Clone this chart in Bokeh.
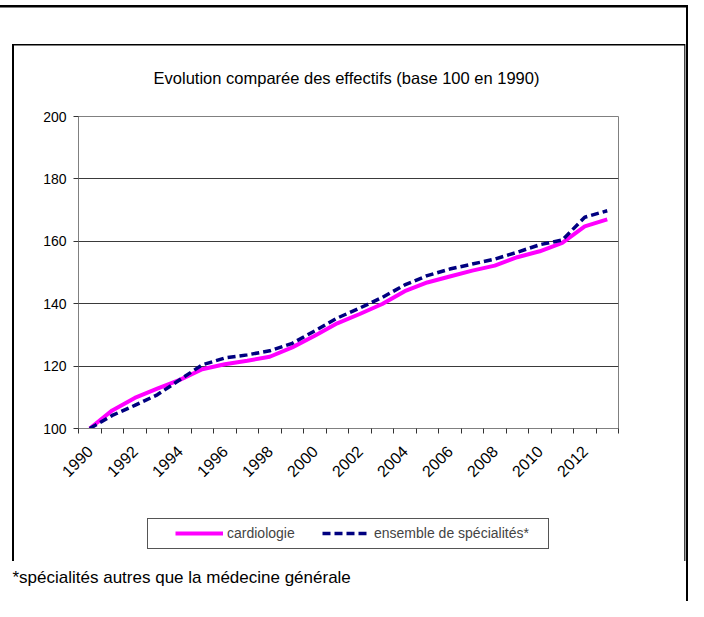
from math import pi
from bokeh.plotting import figure
from bokeh.layouts import column
from bokeh.models import Range1d, FixedTicker, Legend, LegendItem, Label
from bokeh.embed import file_html
from bokeh.resources import INLINE

# ---- data ----
years = list(range(1990, 2014))
cardiologie = [100, 105.8, 109.8, 112.8, 115.6, 119.0, 120.6, 121.7, 123.0, 126.0,
               129.7, 133.7, 136.7, 139.9, 144.0, 146.8, 148.7, 150.6, 152.2, 154.9,
               156.8, 159.5, 164.8, 167.0]
ensemble = [100, 104.2, 107.4, 110.8, 115.6, 120.4, 122.6, 123.6, 124.9, 127.3,
            131.3, 135.4, 138.6, 142.0, 146.0, 149.0, 151.1, 152.7, 154.3, 156.5,
            158.9, 160.4, 167.7, 169.8]
x_tick_years = list(range(1990, 2013, 2))
y_ticks = [100, 120, 140, 160, 180, 200]
title_text = "Evolution comparée des effectifs (base 100 en 1990)"
footnote_text = "*spécialités autres que la médecine générale"
label_cardio = "cardiologie"
label_ensemble = "ensemble de spécialités*"

FONT = "Liberation Sans"
W = 688
H0, H1, H2 = 100, 390, 111   # header strip, chart, legend/footnote strip

MAGENTA = "#FF00FF"
NAVY = "#000080"
NAN = float("nan")

# decorative frame lines drawn as CSS backgrounds: (color, x, y, w, h)
deco = [
    ("#000000", 0, 5, 688, 2.5),        # outer top border
    ("#000000", 686, 5, 2, 596),        # outer right border
    ("#000000", 12, 43.5, 673, 1.5),    # inner frame top
    ("#000000", 11.5, 43.5, 2, 517),    # inner frame left
    ("#444444", 683.5, 43.5, 1.5, 517), # inner frame right
    ("#555555", 147, 518, 401, 1),      # legend box top
    ("#555555", 147, 548, 402, 1),      # legend box bottom
    ("#555555", 147, 518, 1, 31),       # legend box left
    ("#555555", 548, 518, 1, 31),       # legend box right
]
bg_layers = ", ".join(
    f"linear-gradient({c},{c}) {x}px {y}px / {w}px {h}px no-repeat" for c, x, y, w, h in deco
) + ", white"


def strip(height, top):
    """A transparent strip whose data coordinates are page pixels."""
    f = figure(width=W, height=height, output_backend="svg", toolbar_location=None,
               x_range=Range1d(0, W), y_range=Range1d(top + height, top),
               x_axis_location=None, y_axis_location=None,
               min_border_left=0, min_border_right=0, min_border_top=0,
               min_border_bottom=0, frame_align=False)
    f.grid.visible = False
    f.outline_line_color = None
    f.background_fill_alpha = 0
    f.border_fill_alpha = 0
    return f


# ---- header: title ----
p0 = strip(H0, 0)
p0.add_layout(Label(x=346, y=77, text=title_text, text_align="center",
                    text_baseline="alphabetic", text_font=FONT,
                    text_font_size="16.5px", text_color="black"))

# ---- chart ----
p1 = figure(width=W, height=H1, output_backend="svg", toolbar_location=None,
            x_range=Range1d(1989.5, 2013.5), y_range=Range1d(100, 200),
            min_border_left=78, min_border_right=70, min_border_top=16,
            min_border_bottom=H0 + H1 - 428, frame_align=False)
p1.background_fill_color = "white"
p1.border_fill_alpha = 0
p1.outline_line_color = "#808080"
p1.outline_line_width = 1

p1.xgrid.visible = False
p1.ygrid.ticker = FixedTicker(ticks=[120, 140, 160, 180])
p1.ygrid.grid_line_color = "#3a3a3a"
p1.ygrid.grid_line_width = 1

xa = p1.xaxis[0]
xa.ticker = FixedTicker(ticks=x_tick_years, minor_ticks=[y - 0.5 for y in years] + [2013.5])
xa.major_tick_out = 0
xa.major_tick_in = 0
xa.minor_tick_out = 5
xa.minor_tick_in = 0
xa.minor_tick_line_color = "#333333"
xa.axis_line_color = "#808080"
xa.major_label_orientation = pi / 4
xa.major_label_text_font = FONT
xa.major_label_text_font_size = "16px"
xa.major_label_text_color = "black"
xa.major_label_standoff = 15

ya = p1.yaxis[0]
ya.ticker = FixedTicker(ticks=y_ticks)
ya.major_tick_out = 5
ya.major_tick_in = 0
ya.minor_tick_out = 0
ya.minor_tick_in = 0
ya.major_tick_line_color = "#333333"
ya.axis_line_color = "#808080"
ya.major_label_text_font = FONT
ya.major_label_text_font_size = "14px"
ya.major_label_text_color = "black"
ya.major_label_standoff = 7

p1.line(years, cardiologie, line_color=MAGENTA, line_width=4)
p1.line(years, ensemble, line_color=NAVY, line_width=3.5, line_dash="8 4")

# ---- legend + footnote strip ----
p2 = strip(H2, H0 + H1)
# legend keys: same styles as the chart lines, no visible data
k1 = p2.line([NAN], [NAN], line_color=MAGENTA, line_width=4)
k2 = p2.line([NAN], [NAN], line_color=NAVY, line_width=3.5, line_dash="8 4")
legend = Legend(items=[LegendItem(label=label_cardio, renderers=[k1]),
                       LegendItem(label=label_ensemble, renderers=[k2])],
                orientation="horizontal", location=(170, 601 - 548),
                padding=5, margin=0, spacing=25, glyph_width=48, glyph_height=20,
                label_height=20, label_width=70, label_standoff=4,
                label_text_font=FONT, label_text_font_size="14px",
                border_line_alpha=0, background_fill_alpha=0)
p2.add_layout(legend, "center")
p2.add_layout(Label(x=12, y=577, text=footnote_text, text_align="left",
                    text_baseline="alphabetic", text_font=FONT,
                    text_font_size="17px", text_color="black"))

layout = column(p0, p1, p2, spacing=0, styles={"background": bg_layers})

open("out.html", "w").write(file_html(layout, INLINE))
